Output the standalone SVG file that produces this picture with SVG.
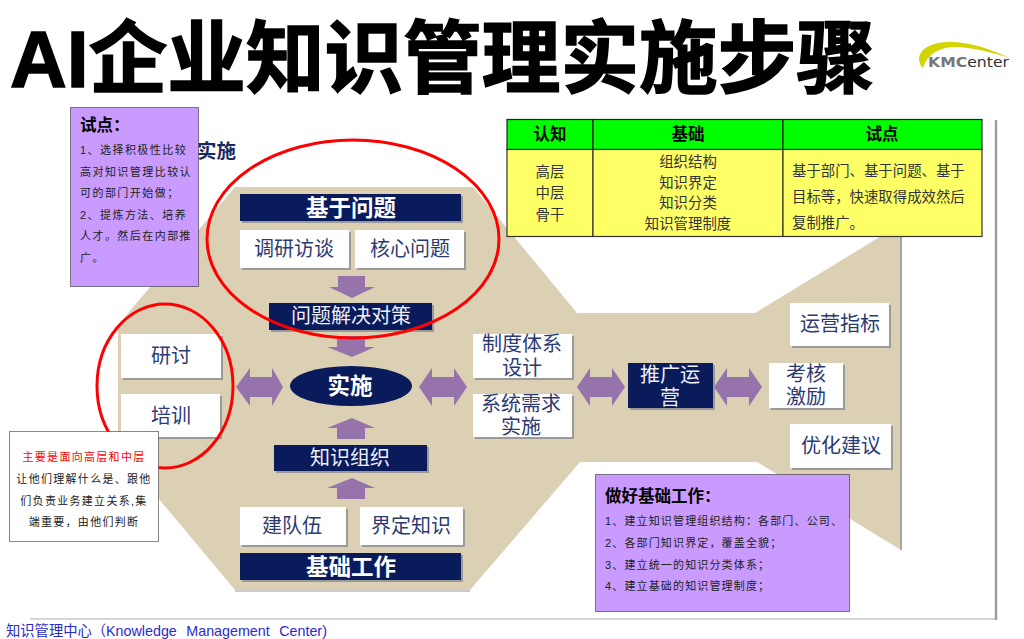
<svg xmlns="http://www.w3.org/2000/svg" width="1024" height="639" viewBox="0 0 1024 639">
<style>
text{font-family:"Liberation Sans","Noto Sans CJK SC",sans-serif}
.c{text-anchor:middle}
.sh{fill:#9a9a9a}
.wb{fill:#fff}
.nb{fill:#0a1b5c}
.wt{font-size:20px;fill:#2c3a72;text-anchor:middle}
.nt{font-size:20px;fill:#eef0f8;text-anchor:middle}
.bt{font-size:22.5px;font-weight:bold;fill:#fff;text-anchor:middle}
.ar{fill:#9673ab}
.red{fill:none;stroke:#f00;stroke-width:3}
.note{stroke:#111;stroke-width:1;stroke-dasharray:1 1}
.s{font-size:11px;letter-spacing:1.3px;fill:#222}
.s1{letter-spacing:1.45px}
.s3{letter-spacing:1.15px}
.h{font-size:16.500px;font-weight:bold;fill:#000}
.th{font-size:16.500px;font-weight:bold;fill:#000;text-anchor:middle}
.td{font-size:14.4px;fill:#333}
.g{fill:#0f0;stroke:#222;stroke-width:1.2}
.y{fill:#ff6;stroke:#333;stroke-width:1.2}
.lg{font-family:"DejaVu Sans",sans-serif}
</style>
<g id="title"><text x="10" y="87" font-size="79" font-weight="bold" fill="#000" stroke="#000" stroke-width="1.5" textLength="865" lengthAdjust="spacingAndGlyphs">AI企业知识管理实施步骤</text></g>
<g id="logo">
<path d="M919 58C921 47 934 42 950 42C972 42 992 50 1010 58C990 52 972 47 955 47C940 47 927 54 923 68C920 65 919 62 919 58Z" fill="#d4d400"/>
<text class="lg" x="928" y="67" font-size="14" font-weight="bold" fill="#777" textLength="81" lengthAdjust="spacingAndGlyphs">KMC<tspan fill="#333" font-weight="normal">enter</tspan></text>
</g>
<g id="frame"><path d="M30 619H996V120" fill="none" stroke="#c4cacc" stroke-width="1.5"/><path d="M996 120V620" stroke="#9aa0a2" stroke-width="2.5"/></g>
<text x="197" y="158" font-size="19.500" font-weight="bold" fill="#1a2a60">实施</text>
<g id="background">
<polygon points="235,187 473,187 577,313 755,313 901,224 901,550 757,462 580,462 470,590 235,590 118,450 118,325" fill="#dcd0b4"/>
<path d="M901 224V550" stroke="#a8a8a0" stroke-width="2"/>
<path d="M235 591H470" stroke="#bbb" stroke-width="1.5"/>
</g>
<g id="connectors">
<polygon class="ar" points="338,276 365,276 365,287 375,287 352,298 329,287 338,287"/>
<polygon class="ar" points="337,336 365,336 365,347 375,347 352,357 327,347 337,347"/>
<polygon class="ar" points="352,418 375,428 365,428 365,439 337,439 337,428 327,428"/>
<polygon class="ar" points="352,478 375,488 365,488 365,499 337,499 337,488 327,488"/>
<polygon class="ar" points="236,387 250,368 250,377 272,377 272,368 283,387 272,406 272,397 250,397 250,406"/>
<polygon class="ar" points="419,387 432,368 432,377 454,377 454,368 467,387 454,406 454,397 432,397 432,406"/>
<polygon class="ar" points="577,387 590,368 590,377 612,377 612,368 625,387 612,406 612,397 590,397 590,406"/>
<polygon class="ar" points="714,387 727,368 727,377 749,377 749,368 762,387 749,406 749,397 727,397 727,406"/>
</g>
<g id="n-jywt"><rect class="sh" x="242" y="196" width="221" height="27"/><rect class="nb" x="240" y="194" width="221" height="27"/><text class="bt" x="351" y="216">基于问题</text></g>
<g id="n-dyft"><rect class="sh" x="242" y="232" width="109" height="38"/><rect class="wb" x="240" y="230" width="109" height="38"/><text class="wt" x="294" y="256">调研访谈</text></g>
<g id="n-hxwt"><rect class="sh" x="357" y="232" width="109" height="38"/><rect class="wb" x="355" y="230" width="109" height="38"/><text class="wt" x="410" y="256">核心问题</text></g>
<g id="n-wtjj"><rect class="sh" x="271" y="305" width="163" height="27"/><rect class="nb" x="269" y="303" width="163" height="27"/><text class="nt" x="351" y="323">问题解决对策</text></g>
<g id="n-yt"><rect class="sh" x="123" y="336" width="100" height="44"/><rect class="wb" x="121" y="334" width="100" height="44"/><text class="wt" x="171" y="363">研讨</text></g>
<g id="n-px"><rect class="sh" x="123" y="396" width="99" height="43"/><rect class="wb" x="121" y="394" width="99" height="43"/><text class="wt" x="171" y="423">培训</text></g>
<g id="n-ss"><ellipse class="nb" cx="351" cy="386" rx="61" ry="20"/><text class="bt" x="350" y="394">实施</text></g>
<g id="n-zd"><rect class="sh" x="475" y="336" width="99" height="44"/><rect class="wb" x="473" y="334" width="99" height="44"/><text class="wt" x="522" y="351">制度体系</text><text class="wt" x="522" y="375">设计</text></g>
<g id="n-xt"><rect class="sh" x="475" y="396" width="99" height="43"/><rect class="wb" x="473" y="394" width="99" height="43"/><text class="wt" x="521" y="411">系统需求</text><text class="wt" x="521" y="434">实施</text></g>
<g id="n-tg"><rect class="sh" x="630" y="365" width="85" height="45"/><rect class="nb" x="628" y="363" width="85" height="45"/><text class="nt" x="670" y="382">推广运</text><text class="nt" x="670" y="405">营</text></g>
<g id="n-kh"><rect class="sh" x="771" y="365" width="74" height="45"/><rect class="wb" x="769" y="363" width="74" height="45"/><text class="wt" x="806" y="381">考核</text><text class="wt" x="806" y="404">激励</text></g>
<g id="n-yy"><rect class="sh" x="792" y="305" width="99" height="43"/><rect class="wb" x="790" y="303" width="99" height="43"/><text class="wt" x="840" y="331">运营指标</text></g>
<g id="n-yh"><rect class="sh" x="792" y="426" width="101" height="44"/><rect class="wb" x="790" y="424" width="101" height="44"/><text class="wt" x="841" y="453">优化建议</text></g>
<g id="n-zszz"><rect class="sh" x="276" y="447" width="153" height="26"/><rect class="nb" x="274" y="445" width="153" height="26"/><text class="nt" x="350" y="465">知识组织</text></g>
<g id="n-jdw"><rect class="sh" x="242" y="509" width="106" height="38"/><rect class="wb" x="240" y="507" width="106" height="38"/><text class="wt" x="292" y="533">建队伍</text></g>
<g id="n-jdzs"><rect class="sh" x="362" y="509" width="103" height="38"/><rect class="wb" x="360" y="507" width="103" height="38"/><text class="wt" x="411" y="533">界定知识</text></g>
<g id="n-jcgz"><rect class="sh" x="242" y="555" width="221" height="27"/><rect class="nb" x="240" y="553" width="221" height="27"/><text class="bt" x="351" y="575">基础工作</text></g>
<g id="highlights"><ellipse class="red" cx="353" cy="239" rx="146" ry="99"/><ellipse class="red" cx="165" cy="386" rx="68" ry="82"/></g>
<g id="note-pilot"><rect class="note" x="70.500" y="107.500" width="128" height="179" fill="#c99bff"/>
<text class="h" x="80" y="131">试点：</text>
<text class="s s1" x="80" y="154">1、选择积极性比较</text><text class="s s1" x="80" y="176">高对知识管理比较认</text><text class="s s1" x="80" y="197">可的部门开始做；</text><text class="s s1" x="80" y="219">2、提炼方法、培养</text><text class="s s1" x="80" y="240">人才。然后在内部推</text><text class="s s1" x="80" y="262">广。</text></g>
<g id="note-audience"><rect class="note" x="9.500" y="431.500" width="149" height="110" fill="#fff"/>
<text class="s c" x="84" y="461" style="fill:#f00">主要是面向高层和中层</text><text class="s c" x="84" y="483">让他们理解什么是、跟他</text><text class="s c" x="84" y="505">们负责业务建立关系,集</text><text class="s c" x="84" y="526">端重要，由他们判断</text></g>
<g id="note-base"><rect class="note" x="595.500" y="474.500" width="254" height="137" fill="#c99bff"/>
<text class="h" x="605" y="502">做好基础工作：</text>
<text class="s s3" x="605" y="525">1、建立知识管理组织结构：各部门、公司、</text><text class="s s3" x="605" y="547">2、各部门知识界定，覆盖全貌；</text><text class="s s3" x="605" y="569">3、建立统一的知识分类体系；</text><text class="s s3" x="605" y="590">4、建立基础的知识管理制度；</text></g>
<g id="table">
<rect class="g" x="507" y="119.500" width="86" height="30"/><rect class="g" x="593" y="119.500" width="190" height="30"/><rect class="g" x="783" y="119.500" width="199" height="30"/>
<rect class="y" x="507" y="149.500" width="86" height="87"/><rect class="y" x="593" y="149.500" width="190" height="87"/><rect class="y" x="783" y="149.500" width="199" height="87"/>
<text class="th" x="550" y="140">认知</text><text class="th" x="688" y="140">基础</text><text class="th" x="882" y="140">试点</text>
<text class="td c" x="550" y="177">高层</text><text class="td c" x="550" y="198">中层</text><text class="td c" x="550" y="220">骨干</text>
<text class="td c" x="688" y="167">组织结构</text><text class="td c" x="688" y="188">知识界定</text><text class="td c" x="688" y="208">知识分类</text><text class="td c" x="688" y="229">知识管理制度</text>
<text class="td" x="792" y="176">基于部门、基于问题、基于</text><text class="td" x="792" y="202">目标等，快速取得成效然后</text><text class="td" x="792" y="228">复制推广。</text>
</g>
<g id="footer"><text x="6" y="636" font-size="14.300" fill="#2a2acc" word-spacing="5.500">知识管理中心（Knowledge Management Center)</text></g>
</svg>
